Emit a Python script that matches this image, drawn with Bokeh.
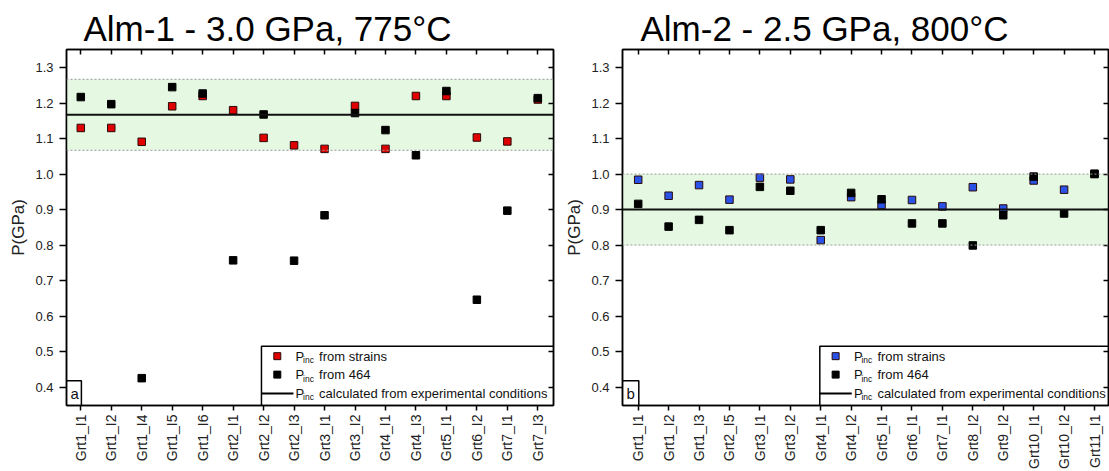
import math
from bokeh.plotting import figure
from bokeh.models import (FixedTicker, LinearAxis, Range1d, BoxAnnotation, Span, Label,
                          PrintfTickFormatter)
from bokeh.layouts import row
from bokeh.embed import file_html
from bokeh.resources import INLINE

# ---------------- data ----------------
alm1_labels = ["Grt1_I1", "Grt1_I2", "Grt1_I4", "Grt1_I5", "Grt1_I6", "Grt2_I1", "Grt2_I2", "Grt2_I3",
               "Grt3_I1", "Grt3_I2", "Grt4_I1", "Grt4_I3", "Grt5_I1", "Grt6_I2", "Grt7_I1", "Grt7_I3"]
alm1_strains = [1.130, 1.130, 1.091, 1.191, 1.220, 1.180, 1.102, 1.081,
                1.071, 1.192, 1.071, 1.220, 1.220, 1.103, 1.092, 1.210]
alm1_464 = [1.217, 1.197, 0.425, 1.245, 1.227, 0.757, 1.168, 0.756,
            0.884, 1.172, 1.124, 1.053, 1.234, 0.646, 0.897, 1.214]
alm1_p_exp = 1.167

alm2_labels = ["Grt1_I1", "Grt1_I2", "Grt1_I3", "Grt2_I5", "Grt3_I1", "Grt3_I2", "Grt4_I1", "Grt4_I2",
               "Grt5_I1", "Grt6_I1", "Grt7_I1", "Grt8_I2", "Grt9_I2", "Grt10_I1", "Grt10_I2", "Grt11_I1"]
alm2_strains = [0.984, 0.939, 0.969, 0.928, 0.990, 0.985, 0.814, 0.935,
                0.913, 0.927, 0.909, 0.963, 0.903, 0.982, 0.956, 1.000]
alm2_464 = [0.916, 0.852, 0.871, 0.842, 0.964, 0.953, 0.842, 0.947,
            0.929, 0.861, 0.861, 0.799, 0.884, 0.993, 0.889, 1.001]
alm2_p_exp = 0.900

p_uncert = 0.1
y_ticks = [0.4, 0.5, 0.6, 0.7, 0.8, 0.9, 1.0, 1.1, 1.2, 1.3]

FONT = "Liberation Sans"


def make_panel(title, labels, strains, p464, p_exp, strain_color, letter,
               x_start, x_end, width, border_left, border_right, title_offset, legend_left):
    n = len(labels)
    xs = list(range(n))
    p = figure(width=width, height=471, output_backend="svg", toolbar_location=None,
               x_range=Range1d(x_start, x_end), y_range=Range1d(0.348, 1.351),
               min_border_left=border_left, min_border_right=border_right,
               min_border_top=49, min_border_bottom=63)
    p.xgrid.visible = False
    p.ygrid.visible = False
    p.outline_line_color = "black"
    p.outline_line_width = 1.5
    p.outline_line_alpha = 1

    p.title.text = title
    p.title.text_font = FONT
    p.title.text_font_size = "35px"
    p.title.text_font_style = "normal"
    p.title.text_color = "black"
    p.title.align = "left"
    p.title.offset = title_offset
    p.title.standoff = 3

    # bottom axis
    xa = p.xaxis[0]
    xa.ticker = FixedTicker(ticks=xs)
    xa.major_label_overrides = {i: lab for i, lab in enumerate(labels)}
    xa.major_label_orientation = math.pi / 2
    xa.major_label_text_font = FONT
    xa.major_label_text_font_size = "14px"
    xa.major_label_text_color = "#222222"
    xa.major_label_standoff = 4
    xa.major_tick_out = 5
    xa.major_tick_in = 0
    xa.minor_tick_line_color = None
    xa.axis_line_width = 1.5
    xa.major_tick_line_width = 1.5

    # left axis
    ya = p.yaxis[0]
    ya.ticker = FixedTicker(ticks=y_ticks)
    ya.formatter = PrintfTickFormatter(format="%.1f")
    ya.major_label_text_font = FONT
    ya.major_label_text_font_size = "13px"
    ya.major_label_text_color = "#222222"
    ya.major_label_standoff = 6
    ya.major_tick_out = 7
    ya.major_tick_in = 0
    ya.minor_tick_line_color = None
    ya.axis_line_width = 1.5
    ya.major_tick_line_width = 1.5
    ya.axis_label = "P(GPa)"
    ya.axis_label_text_font = FONT
    ya.axis_label_text_font_size = "17px"
    ya.axis_label_text_font_style = "normal"
    ya.axis_label_text_color = "#222222"
    ya.axis_label_standoff = 4

    # mirrored axes: inward ticks only (minor ticks carry no labels)
    top = LinearAxis(ticker=FixedTicker(ticks=[], minor_ticks=xs),
                     major_label_standoff=0, major_tick_in=0, major_tick_out=0,
                     minor_tick_in=5, minor_tick_out=0, minor_tick_line_width=1.5,
                     minor_tick_line_color="black", axis_line_width=1.5)
    right = LinearAxis(ticker=FixedTicker(ticks=[], minor_ticks=y_ticks),
                       major_label_standoff=0, major_tick_in=0, major_tick_out=0,
                       minor_tick_in=5, minor_tick_out=0, minor_tick_line_width=1.5,
                       minor_tick_line_color="black", axis_line_width=1.5)
    p.add_layout(top, "above")
    p.add_layout(right, "right")

    # experimental pressure band
    p.add_layout(BoxAnnotation(bottom=p_exp - p_uncert, top=p_exp + p_uncert,
                               fill_color="#e4f8e2", fill_alpha=1, line_color=None, level="underlay"))
    for loc in (p_exp - p_uncert, p_exp + p_uncert):
        p.add_layout(Span(location=loc, dimension="width", line_color="#9a9a9a",
                          line_dash="2 2", line_width=1))
    p.add_layout(Span(location=p_exp, dimension="width", line_color="#111111", line_width=2))

    # data
    p.scatter(xs, strains, marker="square", size=7.5, fill_color=strain_color,
              line_color="#2a0a0a", line_width=1)
    p.scatter(xs, p464, marker="square", size=7.5, fill_color="black", line_color="black", line_width=1)

    # legend box (drawn manually to allow subscripts)
    ly = [0.487, 0.435, 0.382]
    p.add_layout(BoxAnnotation(left=legend_left, top=0.515, fill_color="white", fill_alpha=1,
                               line_color="black", line_alpha=1, line_width=1.5, level="underlay"))
    p.scatter([legend_left + 0.52], [ly[0]], marker="square", size=7, fill_color=strain_color,
              line_color="#2a0a0a", line_width=1)
    p.scatter([legend_left + 0.52], [ly[1]], marker="square", size=7, fill_color="black",
              line_color="black", line_width=1)
    p.segment(x0=[legend_left], x1=[legend_left + 1.05], y0=[ly[2]], y1=[ly[2]],
              line_color="black", line_width=2)
    texts = ["from strains", "from 464", "calculated from experimental conditions"]
    for yy, t in zip(ly, texts):
        p.add_layout(Label(x=legend_left + 1.12, y=yy, text="P", text_font=FONT,
                           text_font_size="13px", text_baseline="middle", text_color="#111111"))
        p.add_layout(Label(x=legend_left + 1.12, y=yy, x_offset=7.5, y_offset=-4, text="inc",
                           text_font=FONT, text_font_size="8.5px", text_baseline="middle",
                           text_color="#111111"))
        p.add_layout(Label(x=legend_left + 1.12, y=yy, x_offset=23.5, text=t, text_font=FONT,
                           text_font_size="13px", text_baseline="middle", text_color="#111111"))

    # panel letter box
    p.add_layout(BoxAnnotation(right=0.02, top=0.418, fill_color="white", fill_alpha=1,
                               line_color="black", line_alpha=1, line_width=1.5, level="underlay"))
    p.add_layout(Label(x=x_start, y=0.382, x_offset=4, text=letter, text_font=FONT,
                       text_font_size="15px", text_baseline="middle", text_color="#111111"))
    return p


p1 = make_panel("Alm-1 - 3.0 GPa, 775°C", alm1_labels, alm1_strains, alm1_464, alm1_p_exp,
                "#e00000", "a", -0.469, 15.515, 560, 66, 7, 17, 5.93)
p2 = make_panel("Alm-2 - 2.5 GPa, 800°C", alm2_labels, alm2_strains, alm2_464, alm2_p_exp,
                "#2a52e6", "b", -0.516, 15.46, 549, 62, 1, 18, 5.97)

layout = row(p1, p2)
open("out.html", "w").write(file_html(layout, INLINE))
